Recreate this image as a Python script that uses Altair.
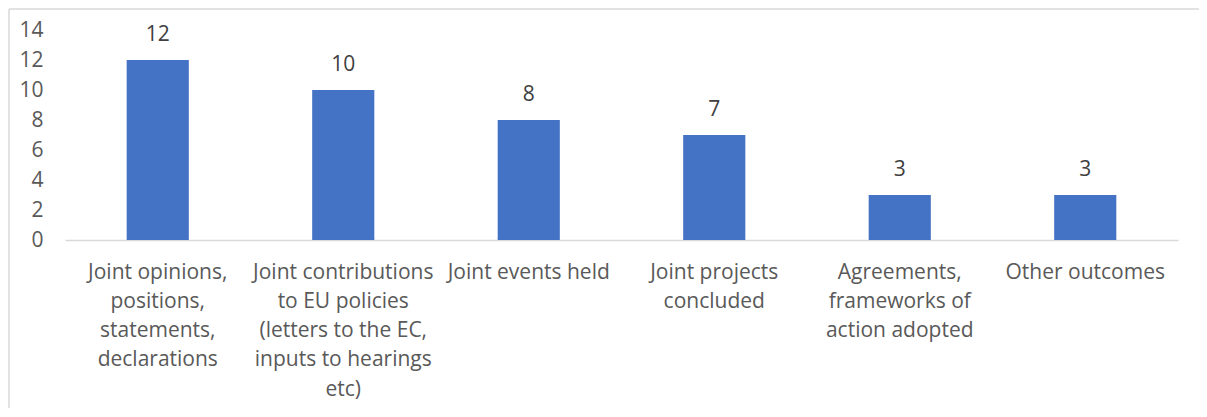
import altair as alt
import pandas as pd

categories = [
    "Joint opinions,|positions,|statements,|declarations",
    "Joint contributions|to EU policies|(letters to the EC,|inputs to hearings|etc)",
    "Joint events held",
    "Joint projects|concluded",
    "Agreements,|frameworks of|action adopted",
    "Other outcomes",
]
values = [12, 10, 8, 7, 3, 3]
y_ticks = [0, 2, 4, 6, 8, 10, 12, 14]

df = pd.DataFrame({"cat": categories, "val": values})

FONT = "Open Sans"
TXT = "#595959"
FS = 21

x = alt.X("cat:N", sort=categories, title=None,
          scale=alt.Scale(paddingInner=0.665, paddingOuter=0.3325),
          axis=alt.Axis(labelAngle=0, labelExpr="split(datum.label, '|')",
                        labelFont=FONT, labelFontSize=FS, labelColor=TXT,
                        labelLineHeight=29.3, labelPadding=21, ticks=False,
                        domainColor="#d9d9d9", domainWidth=1.3, labelLimit=300))
y = alt.Y("val:Q", title=None,
          scale=alt.Scale(domain=[0, 14]),
          axis=alt.Axis(values=y_ticks, grid=False, domain=False, ticks=False,
                        labelOverlap=False, labelFlush=False,
                        labelFont=FONT, labelFontSize=FS, labelColor=TXT, labelPadding=22))

base = alt.Chart(df)
bars = base.mark_bar(color="#4472C4").encode(x=x, y=y)
labels = base.mark_text(font=FONT, fontSize=FS, color="#404040", dy=-25).encode(
    x=x, y=y, text="val:Q")

one = pd.DataFrame({"a": [0]})
left_edge = alt.Chart(one).mark_rule(color="#d9d9d9", strokeWidth=1.5).encode(
    x=alt.value(-56), y=alt.value(-21), y2=alt.value(420))
top_edge = alt.Chart(one).mark_rule(color="#d9d9d9", strokeWidth=1.5).encode(
    x=alt.value(-56), x2=alt.value(1160), y=alt.value(-21))

chart = alt.layer(left_edge, top_edge, bars, labels).properties(
    width=1113, height=210,
    autosize=alt.AutoSizeParams(type="none"),
    padding={"left": 57, "top": 22, "right": 21, "bottom": 168},
).configure_view(stroke=None)

chart.save("out.html", embed_options={"renderer": "svg", "actions": False})
